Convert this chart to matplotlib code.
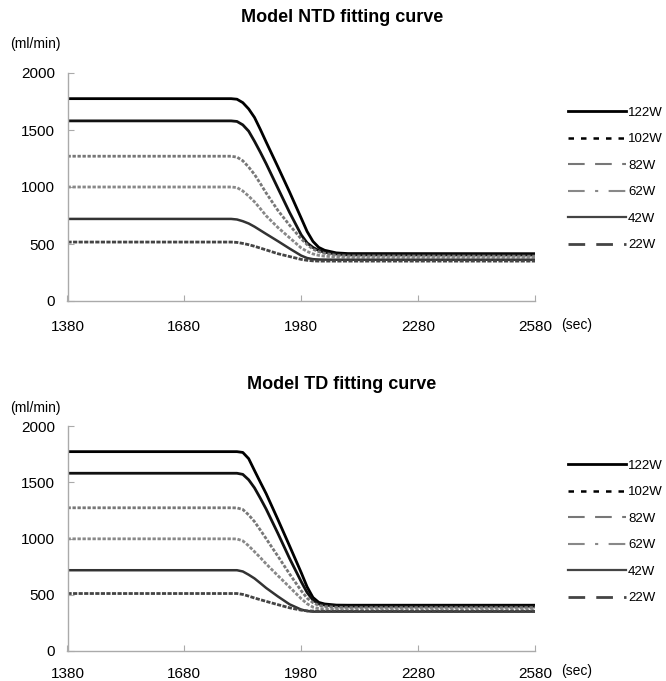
import numpy as np
import matplotlib
matplotlib.use("Agg")
import matplotlib.pyplot as plt
from matplotlib.lines import Line2D

plt.rcParams['font.family'] = ['Liberation Sans', 'DejaVu Sans']

labels = ["122W", "102W", "82W", "62W", "42W", "22W"]
t = [1380, 1800, 1815, 1830, 1845, 1860, 1875, 1890, 1920, 1950, 1980, 1995, 2010, 2025, 2040, 2070, 2100, 2580]

# Model NTD
ntd_122 = [1775, 1775, 1770, 1740, 1685, 1610, 1505, 1394, 1177, 956, 726, 610, 523, 470, 445, 422, 416, 415]
ntd_102 = [1580, 1580, 1575, 1545, 1490, 1401, 1305, 1204, 990, 777, 580, 510, 470, 443, 428, 412, 405, 404]
ntd_82 = [1270, 1270, 1262, 1230, 1175, 1110, 1030, 947, 795, 665, 545, 495, 455, 432, 418, 400, 395, 393]
ntd_62 = [1000, 1000, 995, 965, 920, 870, 810, 747, 645, 555, 465, 435, 413, 400, 393, 386, 384, 384]
ntd_42 = [720, 720, 715, 700, 680, 652, 620, 588, 525, 460, 398, 377, 367, 364, 363, 362, 362, 362]
ntd_22 = [517, 517, 514, 505, 494, 480, 464, 448, 415, 390, 365, 357, 352, 350, 350, 350, 350, 350]

# Model TD
td_122 = [1772, 1772, 1772, 1765, 1710, 1604, 1500, 1398, 1169, 934, 696, 570, 476, 432, 418, 408, 407, 407]
td_102 = [1580, 1580, 1580, 1570, 1522, 1450, 1358, 1261, 1046, 823, 616, 520, 453, 418, 408, 400, 398, 398]
td_82 = [1273, 1273, 1272, 1258, 1210, 1150, 1075, 998, 843, 685, 535, 470, 430, 405, 396, 388, 386, 386]
td_62 = [997, 997, 996, 979, 935, 883, 830, 774, 670, 568, 465, 420, 390, 377, 374, 369, 368, 368]
td_42 = [718, 718, 718, 707, 678, 645, 603, 560, 485, 415, 368, 355, 350, 350, 350, 350, 350, 350]
td_22 = [511, 511, 511, 503, 488, 471, 456, 441, 412, 384, 363, 357, 355, 354, 353, 353, 353, 353]

xticks = [1380, 1680, 1980, 2280, 2580]
yticks = [0, 500, 1000, 1500, 2000]

# curve look inside the plot
curve_style = [
    dict(color='black', lw=2.0),
    dict(color='#111111', lw=2.0),
    dict(color='#777777', lw=2.0, dashes=(1.2, 0.6)),
    dict(color='#888888', lw=2.0, dashes=(1.2, 0.6)),
    dict(color='#333333', lw=1.8),
    dict(color='#444444', lw=2.0, dashes=(1.5, 0.5)),
]
# legend handle look
legend_style = [
    dict(color='black', lw=2.0),
    dict(color='black', lw=1.8, dashes=(2.2, 2.8)),
    dict(color='#777777', lw=1.5, dashes=(8, 5)),
    dict(color='#888888', lw=1.5, dashes=(8, 5, 1.5, 5)),
    dict(color='#444444', lw=1.6),
    dict(color='#444444', lw=2.0, dashes=(6, 4)),
]

fig = plt.figure(figsize=(6.66, 6.81), dpi=100)
W, H = 666, 681

panels = [
    ("Model NTD fitting curve", [ntd_122, ntd_102, ntd_82, ntd_62, ntd_42, ntd_22], 73, 301, 18, 44, 14),
    ("Model TD fitting curve", [td_122, td_102, td_82, td_62, td_42, td_22], 426, 651, 385, 408, 11.5),
]

for title, series, ytop, ybot, ytitle, yunit, xpad in panels:
    ax = fig.add_axes([67.5 / W, 1 - ybot / H, (535 - 67.5) / W, (ybot - ytop) / H])
    for vals, st in zip(series, curve_style):
        ax.plot(t, vals, solid_capstyle='butt', solid_joinstyle='round', **st)
    ax.set_xlim(1380, 2580)
    ax.set_ylim(0, 2000)
    ax.set_xticks(xticks)
    ax.set_yticks(yticks)
    for s in ['top', 'right']:
        ax.spines[s].set_visible(False)
    for s in ['left', 'bottom']:
        ax.spines[s].set_color('#aaaaaa')
        ax.spines[s].set_linewidth(1.0)
    ax.tick_params(axis='both', direction='in', length=4, color='#aaaaaa', labelsize=11)
    ax.tick_params(axis='x', pad=xpad)
    ax.tick_params(axis='y', pad=9)

    fig.text(342 / W, 1 - ytitle / H, title, ha='center', va='center',
             fontsize=13, fontweight='bold')
    fig.text(35 / W, 1 - yunit / H, "(ml/min)", ha='center', va='center', fontsize=10)
    fig.text(577 / W, 1 - (ybot + 24 - (14 - xpad) * 1.4) / H, "(sec)", ha='center', va='center', fontsize=10)

    handles = [Line2D([0], [0], **st) for st in legend_style]
    fig.legend(handles, labels, loc='upper left',
               bbox_to_anchor=(568 / W, 1 - (ytop + 33.5) / H),
               frameon=False, fontsize=9.5, handlelength=4.4, handletextpad=0.15,
               labelspacing=1.08, borderpad=0, borderaxespad=0)

fig.savefig('out.png', dpi=100)
